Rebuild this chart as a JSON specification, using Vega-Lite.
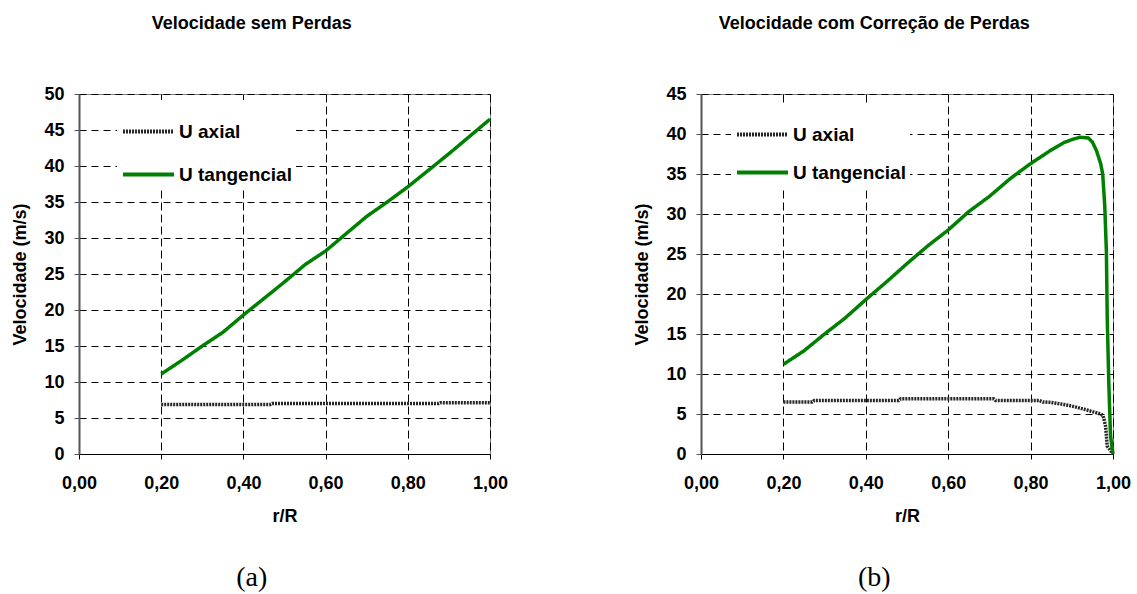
{
  "$schema": "https://vega.github.io/schema/vega-lite/v6.json",
  "padding": {"left": 11, "top": 14, "right": 0, "bottom": 0},
  "background": "white",
  "datasets": {
    "semPerdas": [
      {"serie": "U axial", "r": 0.20, "v": 6.88},
      {"serie": "U axial", "r": 0.30, "v": 6.88},
      {"serie": "U axial", "r": 0.40, "v": 6.88},
      {"serie": "U axial", "r": 0.465, "v": 6.88},
      {"serie": "U axial", "r": 0.47, "v": 7.0},
      {"serie": "U axial", "r": 0.60, "v": 7.0},
      {"serie": "U axial", "r": 0.70, "v": 7.0},
      {"serie": "U axial", "r": 0.80, "v": 7.0},
      {"serie": "U axial", "r": 0.875, "v": 7.0},
      {"serie": "U axial", "r": 0.88, "v": 7.13},
      {"serie": "U axial", "r": 0.95, "v": 7.13},
      {"serie": "U axial", "r": 1.00, "v": 7.13},
      {"serie": "U tangencial", "r": 0.20, "v": 11.1},
      {"serie": "U tangencial", "r": 0.25, "v": 13.0},
      {"serie": "U tangencial", "r": 0.30, "v": 15.0},
      {"serie": "U tangencial", "r": 0.35, "v": 16.9},
      {"serie": "U tangencial", "r": 0.40, "v": 19.3},
      {"serie": "U tangencial", "r": 0.45, "v": 21.6},
      {"serie": "U tangencial", "r": 0.50, "v": 23.9},
      {"serie": "U tangencial", "r": 0.55, "v": 26.3},
      {"serie": "U tangencial", "r": 0.60, "v": 28.2},
      {"serie": "U tangencial", "r": 0.65, "v": 30.6},
      {"serie": "U tangencial", "r": 0.70, "v": 33.0},
      {"serie": "U tangencial", "r": 0.75, "v": 35.0},
      {"serie": "U tangencial", "r": 0.80, "v": 37.1},
      {"serie": "U tangencial", "r": 0.85, "v": 39.4},
      {"serie": "U tangencial", "r": 0.90, "v": 41.7},
      {"serie": "U tangencial", "r": 0.95, "v": 44.1},
      {"serie": "U tangencial", "r": 1.00, "v": 46.5}
    ],
    "comCorrecao": [
      {"serie": "U axial", "r": 0.20, "v": 6.5},
      {"serie": "U axial", "r": 0.27, "v": 6.5},
      {"serie": "U axial", "r": 0.275, "v": 6.7},
      {"serie": "U axial", "r": 0.40, "v": 6.7},
      {"serie": "U axial", "r": 0.48, "v": 6.7},
      {"serie": "U axial", "r": 0.485, "v": 6.9},
      {"serie": "U axial", "r": 0.60, "v": 6.9},
      {"serie": "U axial", "r": 0.71, "v": 6.9},
      {"serie": "U axial", "r": 0.715, "v": 6.7},
      {"serie": "U axial", "r": 0.82, "v": 6.7},
      {"serie": "U axial", "r": 0.83, "v": 6.5},
      {"serie": "U axial", "r": 0.85, "v": 6.45},
      {"serie": "U axial", "r": 0.88, "v": 6.2},
      {"serie": "U axial", "r": 0.90, "v": 6.0},
      {"serie": "U axial", "r": 0.93, "v": 5.6},
      {"serie": "U axial", "r": 0.95, "v": 5.3},
      {"serie": "U axial", "r": 0.97, "v": 5.0},
      {"serie": "U axial", "r": 0.976, "v": 4.8},
      {"serie": "U axial", "r": 0.982, "v": 3.5},
      {"serie": "U axial", "r": 0.986, "v": 1.0},
      {"serie": "U axial", "r": 1.00, "v": 0.0},
      {"serie": "U tangencial", "r": 0.20, "v": 11.2},
      {"serie": "U tangencial", "r": 0.25, "v": 12.9},
      {"serie": "U tangencial", "r": 0.30, "v": 15.0},
      {"serie": "U tangencial", "r": 0.35, "v": 17.0},
      {"serie": "U tangencial", "r": 0.40, "v": 19.3},
      {"serie": "U tangencial", "r": 0.45, "v": 21.5},
      {"serie": "U tangencial", "r": 0.50, "v": 23.8},
      {"serie": "U tangencial", "r": 0.55, "v": 26.0},
      {"serie": "U tangencial", "r": 0.60, "v": 28.0},
      {"serie": "U tangencial", "r": 0.65, "v": 30.3},
      {"serie": "U tangencial", "r": 0.70, "v": 32.2},
      {"serie": "U tangencial", "r": 0.75, "v": 34.4},
      {"serie": "U tangencial", "r": 0.80, "v": 36.3},
      {"serie": "U tangencial", "r": 0.85, "v": 38.0},
      {"serie": "U tangencial", "r": 0.88, "v": 38.9},
      {"serie": "U tangencial", "r": 0.90, "v": 39.3},
      {"serie": "U tangencial", "r": 0.92, "v": 39.6},
      {"serie": "U tangencial", "r": 0.94, "v": 39.5},
      {"serie": "U tangencial", "r": 0.95, "v": 39.0},
      {"serie": "U tangencial", "r": 0.96, "v": 37.9},
      {"serie": "U tangencial", "r": 0.97, "v": 36.3},
      {"serie": "U tangencial", "r": 0.975, "v": 35.0},
      {"serie": "U tangencial", "r": 0.98, "v": 31.0},
      {"serie": "U tangencial", "r": 0.984, "v": 25.2},
      {"serie": "U tangencial", "r": 0.986, "v": 17.0},
      {"serie": "U tangencial", "r": 0.99, "v": 8.5},
      {"serie": "U tangencial", "r": 0.994, "v": 2.3},
      {"serie": "U tangencial", "r": 1.00, "v": 0.0}
    ]
  },
  "spacing": 124,
  "hconcat": [
    {
      "title": {"text": "(a)", "orient": "bottom", "anchor": "middle", "frame": "bounds", "dx": -8, "offset": 38, "font": "Liberation Serif", "fontSize": 28, "fontWeight": "normal", "color": "#000"},
      "vconcat": [
        {
          "width": 411,
          "height": 360,
          "title": {"text": "Velocidade sem Perdas", "anchor": "middle", "frame": "bounds", "dx": -8, "offset": 52},
          "data": {"name": "semPerdas"},
          "mark": {"type": "line", "strokeWidth": 3.5},
          "encoding": {
            "x": {
              "field": "r", "type": "quantitative", "title": "r/R",
              "scale": {"domain": [0, 1]},
              "axis": {"values": [0, 0.2, 0.4, 0.6, 0.8, 1], "labelExpr": "replace(format(datum.value, '.2f'), '.', ',')"}
            },
            "y": {
              "field": "v", "type": "quantitative", "title": "Velocidade (m/s)",
              "scale": {"domain": [0, 50]},
              "axis": {"values": [0, 5, 10, 15, 20, 25, 30, 35, 40, 45, 50]}
            },
            "color": {
              "field": "serie", "type": "nominal",
              "scale": {"domain": ["U axial", "U tangencial"], "range": ["#262626", "#008000"]},
              "legend": {"orient": "none", "legendX": 38, "legendY": 6, "rowPadding": 5}
            },
            "strokeDash": {
              "field": "serie", "type": "nominal",
              "scale": {"domain": ["U axial", "U tangencial"], "range": [[2, 1], [1, 0]]},
              "legend": {"orient": "none", "legendX": 38, "legendY": 6, "rowPadding": 5}
            }
          }
        }
      ]
    },
    {
      "title": {"text": "(b)", "orient": "bottom", "anchor": "middle", "frame": "bounds", "dx": -8, "offset": 38, "font": "Liberation Serif", "fontSize": 28, "fontWeight": "normal", "color": "#000"},
      "vconcat": [
        {
          "width": 412,
          "height": 360,
          "title": {"text": "Velocidade com Correção de Perdas", "anchor": "middle", "frame": "bounds", "dx": -8, "offset": 52},
          "data": {"name": "comCorrecao"},
          "mark": {"type": "line", "strokeWidth": 3.5},
          "encoding": {
            "x": {
              "field": "r", "type": "quantitative", "title": "r/R",
              "scale": {"domain": [0, 1]},
              "axis": {"values": [0, 0.2, 0.4, 0.6, 0.8, 1], "labelExpr": "replace(format(datum.value, '.2f'), '.', ',')"}
            },
            "y": {
              "field": "v", "type": "quantitative", "title": "Velocidade (m/s)",
              "scale": {"domain": [0, 45]},
              "axis": {"values": [0, 5, 10, 15, 20, 25, 30, 35, 40, 45]}
            },
            "color": {
              "field": "serie", "type": "nominal",
              "scale": {"domain": ["U axial", "U tangencial"], "range": ["#262626", "#008000"]},
              "legend": {"orient": "none", "legendX": 30, "legendY": 9, "rowPadding": 0}
            },
            "strokeDash": {
              "field": "serie", "type": "nominal",
              "scale": {"domain": ["U axial", "U tangencial"], "range": [[2, 1], [1, 0]]},
              "legend": {"orient": "none", "legendX": 30, "legendY": 9, "rowPadding": 0}
            }
          }
        }
      ]
    }
  ],
  "resolve": {"scale": {"color": "independent", "strokeDash": "independent"}},
  "config": {
    "font": "Liberation Sans",
    "view": {"stroke": "#808080", "strokeWidth": 1},
    "title": {"font": "Liberation Sans", "fontSize": 18, "fontWeight": "bold", "color": "#000"},
    "axis": {
      "labelFont": "Liberation Sans", "labelFontSize": 18, "labelFontWeight": "bold", "labelColor": "#000",
      "titleFont": "Liberation Sans", "titleFontSize": 18, "titleFontWeight": "bold", "titleColor": "#000",
      "grid": true, "gridColor": "#000", "gridDash": [8, 4], "gridWidth": 1, "gridOpacity": 1,
      "tickSize": 5, "tickColor": "#000", "tickWidth": 1, "labelFlush": false, "labelOverlap": false
    },
    "axisX": {"domainColor": "#000", "domainWidth": 1, "labelPadding": 15, "titlePadding": 15},
    "axisY": {"domainColor": "#555", "domainWidth": 2, "tickColor": "#555", "labelPadding": 10, "titlePadding": 14, "gridDash": [7, 5]},
    "legend": {
      "title": null, "symbolType": "stroke", "symbolSize": 2601, "symbolStrokeWidth": 4,
      "labelFont": "Liberation Sans", "labelFontSize": 19, "labelFontWeight": "bold", "labelColor": "#000",
      "labelOffset": 3, "fillColor": "white", "padding": 4, "strokeColor": null
    }
  }
}
